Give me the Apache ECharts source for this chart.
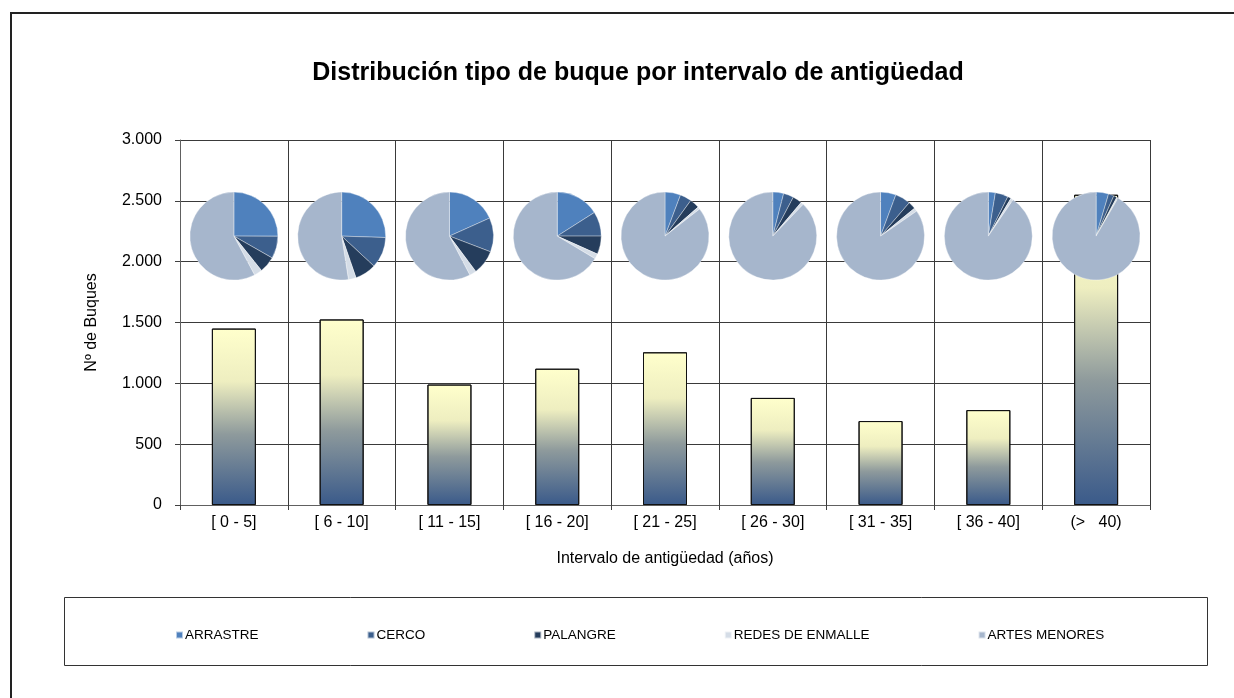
<!DOCTYPE html>
<html>
<head>
<meta charset="utf-8">
<script src="https://cdn.jsdelivr.net/npm/echarts@6.0.0/dist/echarts.min.js"></script>
<style>
  html, body { margin: 0; padding: 0; background: #fff; }
  #chart { width: 1234px; height: 698px; }
</style>
</head>
<body>
<div id="chart"></div>
<script>
// datos
const categories = ['[ 0 - 5]', '[ 6 - 10]', '[ 11 - 15]', '[ 16 - 20]', '[ 21 - 25]', '[ 26 - 30]', '[ 31 - 35]', '[ 36 - 40]', '(>   40)'];
const totales = [1450, 1525, 990, 1120, 1255, 880, 690, 780, 2550];
const tipos = ['ARRASTRE', 'CERCO', 'PALANGRE', 'REDES DE ENMALLE', 'ARTES MENORES'];
const arrastre = [363, 389, 181, 179, 72, 35, 39, 20, 117];
const cerco = [119, 174, 124, 101, 53, 33, 39, 37, 51];
const palangre = [87, 119, 89, 75, 45, 30, 19, 10, 31];
const redes = [43, 43, 25, 21, 11, 9, 9, 7, 13];
const artesMenores = [838, 800, 571, 744, 1074, 773, 584, 706, 2338];
const yTicks = [0, 500, 1000, 1500, 2000, 2500, 3000];
const pieLevel = 2210; // altura (en buques) donde se colocan las tartas

const colores = ['#4F81BD', '#3C5F8D', '#253D5C', '#D5DDE7', '#A6B6CC'];
const FONT = '"Liberation Sans", Arial, sans-serif';

const chart = echarts.init(document.getElementById('chart'));

const fmt = v => String(v).replace(/\B(?=(\d{3})+(?!\d))/g, '.');

const option = {
  backgroundColor: '#fff',
  animation: false,
  color: colores,
  title: {
    text: 'Distribución tipo de buque por intervalo de antigüedad',
    left: 633, top: 56, textAlign: 'center',
    textStyle: { fontFamily: FONT, fontSize: 25, fontWeight: 'bold', color: '#000' }
  },
  grid: { left: 180, right: 84, top: 140, bottom: 193 },
  legend: {
    data: tipos,
    left: 170, top: 623,
    icon: 'rect', itemWidth: 7, itemHeight: 7, itemGap: 108,
    selectedMode: false,
    textStyle: { fontFamily: FONT, fontSize: 13.5, color: '#000', padding: [0, 0, 0, -3] }
  },
  xAxis: {
    type: 'category',
    data: categories,
    name: 'Intervalo de antigüedad (años)',
    nameLocation: 'middle', nameGap: 46,
    nameTextStyle: { fontFamily: FONT, fontSize: 16, color: '#000' },
    axisLine: { lineStyle: { color: '#606060', width: 1 } },
    axisTick: { show: true, length: 5, interval: 0, lineStyle: { color: '#404040' } },
    axisLabel: { fontFamily: FONT, fontSize: 16, color: '#000', margin: 10, interval: 0 },
    splitLine: { show: true, interval: 0, lineStyle: { color: '#3a3a3a', width: 1 } }
  },
  yAxis: {
    type: 'value',
    min: 0, max: yTicks[yTicks.length - 1], interval: yTicks[1] - yTicks[0],
    name: 'Nº de Buques',
    nameLocation: 'middle', nameGap: 80, nameRotate: 90,
    nameTextStyle: { fontFamily: FONT, fontSize: 16, color: '#000' },
    axisLine: { show: true, lineStyle: { color: '#606060' } },
    axisTick: { show: true, length: 5, lineStyle: { color: '#404040' } },
    axisLabel: { fontFamily: FONT, fontSize: 16, color: '#000', margin: 18, formatter: fmt },
    splitLine: { show: true, lineStyle: { color: '#3a3a3a', width: 1 } }
  },
  graphic: [
    { type: 'line', shape: { x1: 11, y1: 12, x2: 11, y2: 698 }, style: { stroke: '#222', lineWidth: 2 } },
    { type: 'line', shape: { x1: 10, y1: 13, x2: 1234, y2: 13 }, style: { stroke: '#222', lineWidth: 2 } },
    { type: 'rect', shape: { x: 64.5, y: 597.5, width: 1143, height: 68 }, style: { fill: 'none', stroke: '#333', lineWidth: 1 } }
  ],
  series: [{
    name: 'Total',
    type: 'bar',
    data: totales,
    barWidth: 44,
    z: 2,
    itemStyle: {
      borderColor: '#111', borderWidth: 1,
      color: new echarts.graphic.LinearGradient(0, 0, 0, 1, [
        { offset: 0, color: '#FFFFCC' },
        { offset: 0.3, color: '#EEEEC0' },
        { offset: 0.6, color: '#8E9A9C' },
        { offset: 1, color: '#3A5A8A' }
      ])
    },
    emphasis: { disabled: true }
  }]
};

chart.setOption(option);

// tartas colocadas sobre cada intervalo usando la escala del propio gráfico
const pies = categories.map((c, i) => {
  const p = chart.convertToPixel({ xAxisIndex: 0, yAxisIndex: 0 }, [c, pieLevel]);
  return {
    type: 'pie',
    center: p,
    radius: 44,
    startAngle: 90,
    clockwise: true,
    z: 5,
    label: { show: false },
    labelLine: { show: false },
    emphasis: { disabled: true },
    itemStyle: { borderColor: 'rgba(255,255,255,0.6)', borderWidth: 0.6 },
    data: tipos.map((t, k) => ({
      name: t,
      value: [arrastre, cerco, palangre, redes, artesMenores][k][i]
    }))
  };
});

chart.setOption({ series: [option.series[0], ...pies] });
</script>
</body>
</html>
